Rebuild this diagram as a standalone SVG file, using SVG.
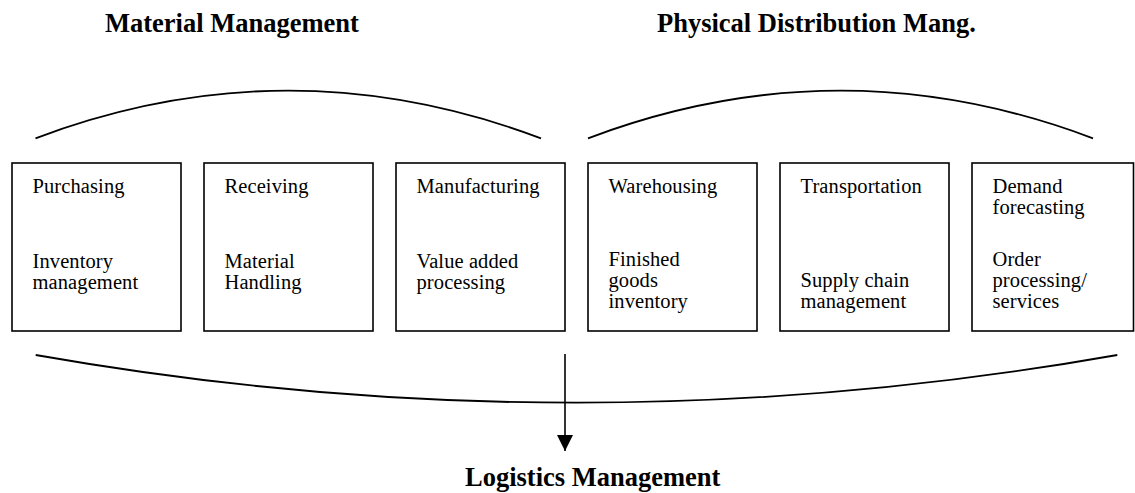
<svg xmlns="http://www.w3.org/2000/svg" width="1135" height="493" viewBox="0 0 1135 493">
<defs>
<style>
.box{fill:#fff;stroke:#000;stroke-width:1.6}
.t{font-family:"Liberation Serif","Times New Roman",serif;font-size:20.5px;letter-spacing:0.1px;fill:#000}
.h{font-family:"Liberation Serif","Times New Roman",serif;font-size:26.5px;font-weight:bold;fill:#000}
.arc{fill:none;stroke:#000;stroke-width:1.8}
</style>
<marker id="ah" viewBox="0 0 16 16" refX="16" refY="8" markerWidth="16" markerHeight="16" markerUnits="userSpaceOnUse" orient="auto">
<path d="M0,0 L16,8 L0,16 Z" fill="#000"/>
</marker>
</defs>
<rect width="1135" height="493" fill="#fff"/>
<g id="headings">
<text class="h" x="105" y="32">Material Management</text>
<text class="h" x="657" y="32">Physical Distribution Mang.</text>
</g>
<g id="n1">
<rect class="box" x="12" y="163" width="169" height="168"/>
<text class="t" x="32.5" y="193">Purchasing</text>
<text class="t" x="32.5" y="268">Inventory</text>
<text class="t" x="32.5" y="289">management</text>
</g>
<g id="n2">
<rect class="box" x="204" y="163" width="169" height="168"/>
<text class="t" x="224.5" y="193">Receiving</text>
<text class="t" x="224.5" y="268">Material</text>
<text class="t" x="224.5" y="289">Handling</text>
</g>
<g id="n3">
<rect class="box" x="396" y="163" width="169" height="168"/>
<text class="t" x="416.5" y="193">Manufacturing</text>
<text class="t" x="416.5" y="268">Value added</text>
<text class="t" x="416.5" y="289">processing</text>
</g>
<g id="n4">
<rect class="box" x="588" y="163" width="169" height="168"/>
<text class="t" x="608.5" y="193">Warehousing</text>
<text class="t" x="608.5" y="266">Finished</text>
<text class="t" x="608.5" y="287">goods</text>
<text class="t" x="608.5" y="308">inventory</text>
</g>
<g id="n5">
<rect class="box" x="780" y="163" width="169" height="168"/>
<text class="t" x="800.5" y="193">Transportation</text>
<text class="t" x="800.5" y="287">Supply chain</text>
<text class="t" x="800.5" y="308">management</text>
</g>
<g id="n6">
<rect class="box" x="972" y="163" width="161.5" height="168"/>
<text class="t" x="992.5" y="193">Demand</text>
<text class="t" x="992.5" y="214">forecasting</text>
<text class="t" x="992.5" y="266">Order</text>
<text class="t" x="992.5" y="287">processing/</text>
<text class="t" x="992.5" y="308">services</text>
</g>
<g id="connectors">
<path class="arc" d="M35.5,138.3 Q288,43 541,138.3"/>
<path class="arc" d="M588,138.3 Q840.5,43 1093,138.3"/>
<path class="arc" d="M35.7,355 Q576.5,450.4 1117.3,355"/>
<line x1="565" y1="354" x2="565" y2="451" stroke="#000" stroke-width="1.6" marker-end="url(#ah)"/>
</g>
<g id="footer">
<text class="h" x="465" y="486">Logistics Management</text>
</g>
</svg>
